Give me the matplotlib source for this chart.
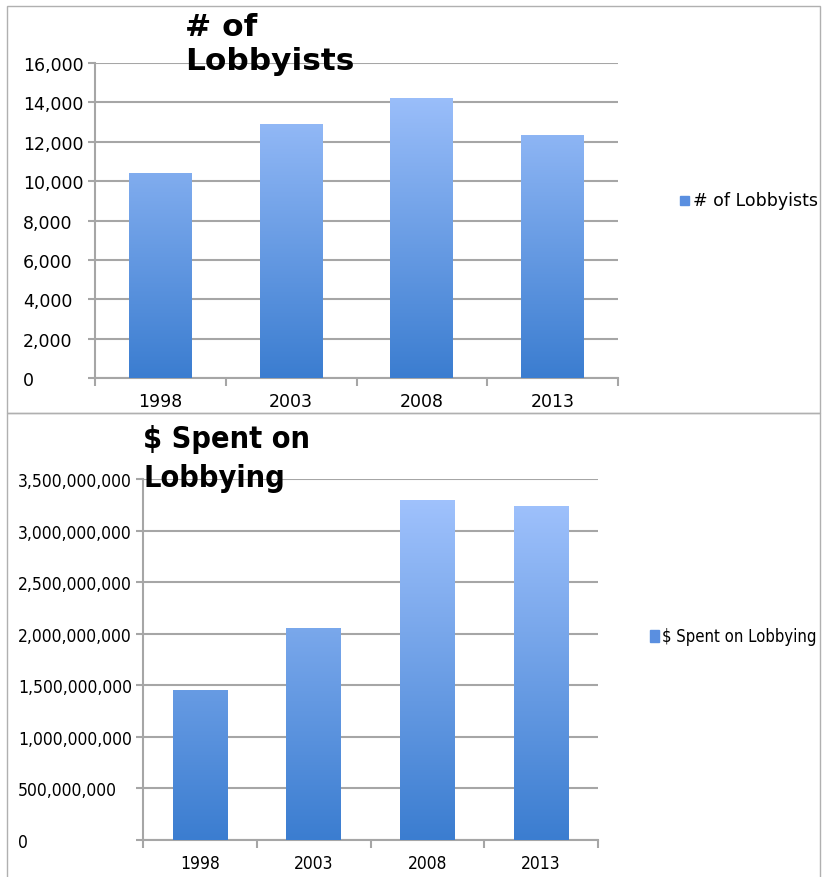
import numpy as np
import matplotlib
matplotlib.use("Agg")
import matplotlib.pyplot as plt
from matplotlib.colors import LinearSegmentedColormap
from matplotlib.patches import Rectangle
from matplotlib.ticker import FuncFormatter, FixedLocator

years = ["1998", "2003", "2008", "2013"]
lobbyists = [10400, 12900, 14200, 12350]
spending = [1.45e9, 2.06e9, 3.30e9, 3.24e9]

grad = LinearSegmentedColormap.from_list("g", ["#3b7dd0", "#a6c6ff"])
grid_c = "#a6a6a6"

fig = plt.figure(figsize=(8.22, 8.78), dpi=100)

# panel frames
fig.add_artist(Rectangle((7/822, 1-414/878), 813/822, 407/878, transform=fig.transFigure,
                         fill=False, ec="#b0b0b0", lw=1))
fig.add_artist(Rectangle((7/822, -0.01), 813/822, 1-414/878+0.01, transform=fig.transFigure,
                         fill=False, ec="#b0b0b0", lw=1))


def gradient_bars(ax, values, ymax):
    x = np.arange(len(values))
    bars = ax.bar(x, values, width=0.48, color="none", zorder=3)
    img = np.linspace(0, 1, 256).reshape(-1, 1)
    for b in bars:
        x0, w = b.get_x(), b.get_width()
        im = ax.imshow(img, cmap=grad, origin="lower", aspect="auto",
                       extent=(x0, x0 + w, 0, ymax), zorder=3, vmin=0, vmax=1)
        im.set_clip_path(b)
    ax.set_xlim(-0.5, len(values) - 0.5)
    ax.set_ylim(0, ymax)
    return bars


def style(ax, step, ymax, yfs, xfs, stretch, ypad):
    ax.set_yticks(np.arange(0, ymax + 1, step))
    ax.yaxis.set_major_formatter(FuncFormatter(lambda v, p: f"{int(v):,}"))
    ax.grid(axis="y", color=grid_c, lw=1.5, zorder=0)
    ax.set_axisbelow(True)
    for s in ["top", "right"]:
        ax.spines[s].set_visible(False)
    for s in ["left", "bottom"]:
        ax.spines[s].set_color(grid_c)
        ax.spines[s].set_linewidth(1.5)
    ax.xaxis.set_major_locator(FixedLocator([-0.5, 0.5, 1.5, 2.5, 3.5]))
    ax.xaxis.set_minor_locator(FixedLocator([0, 1, 2, 3]))
    ax.set_xticklabels([])
    ax.set_xticklabels(years, minor=True)
    ax.tick_params(axis="x", which="major", length=6, color=grid_c, width=1.5)
    ax.tick_params(axis="x", which="minor", length=0, pad=10, labelsize=xfs)
    ax.tick_params(axis="y", length=5, color=grid_c, width=1.5, labelsize=yfs,
                   pad=ypad * 72 / 100)
    for t in ax.get_yticklabels():
        t.set_horizontalalignment("left")
    for t in ax.get_yticklabels() + ax.get_xticklabels(minor=True):
        t.set_fontstretch(stretch)


# top chart
ax1 = fig.add_axes([95/822, 1-379/878, 523/822, 315/878])
gradient_bars(ax1, lobbyists, 16000)
style(ax1, 2000, 16000, 12.5, 12.5, "normal", 95 - 5 - 25)
fig.text(185/822, 1-13/878, "# of\nLobbyists", fontsize=22.5, fontweight="bold",
         va="top", ha="left", linespacing=1.2, zorder=5)
fig.add_artist(Rectangle((680/822, 1-206/878), 9/822, 9/878, transform=fig.transFigure,
                         color="#5a8fe0"))
fig.text(693/822, 1-201/878, "# of Lobbyists", fontsize=12.5, va="center", ha="left")

# bottom chart
ax2 = fig.add_axes([143/822, 1-841/878, 455/822, 361/878])
gradient_bars(ax2, spending, 3.5e9)
style(ax2, 5e8, 3.5e9, 12.5, 12.5, "condensed", 143 - 5 - 20)
fig.text(143/822, 1-425/878, "$ Spent on\nLobbying", fontsize=22, fontweight="bold",
         va="top", ha="left", linespacing=1.45, zorder=5, fontstretch="condensed")
fig.add_artist(Rectangle((650/822, 1-643/878), 9/822, 12/878, transform=fig.transFigure,
                         color="#5a8fe0"))
fig.text(662/822, 1-637/878, "$ Spent on Lobbying", fontsize=12, va="center", ha="left",
         fontstretch="condensed")

fig.savefig("out.png", dpi=100)
